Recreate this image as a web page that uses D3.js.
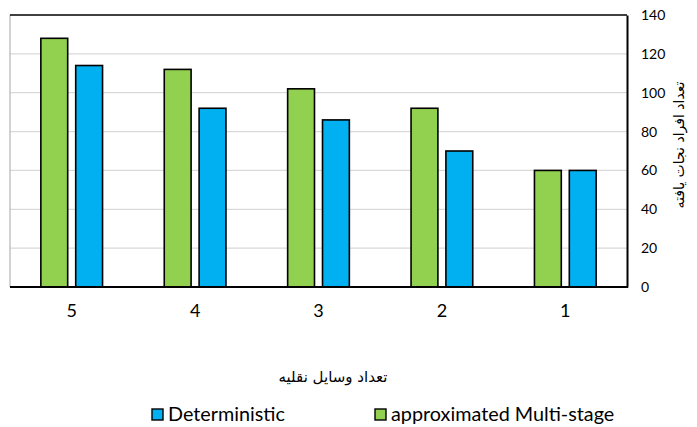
<!DOCTYPE html>
<html>
<head>
<meta charset="utf-8">
<script src="https://cdn.jsdelivr.net/npm/d3@7"></script>
<style>
  html, body { margin: 0; padding: 0; background: #fff; }
  svg { display: block; }
</style>
</head>
<body>
<svg id="chart" width="697" height="427"></svg>
<script>
// Number of vehicles (categories, shown left to right)
const categories = ["5", "4", "3", "2", "1"];
// Number of people rescued per model
const multiStage = [128, 112, 102, 92, 60];
const deterministic = [114, 92, 86, 70, 60];
const seriesNames = ["approximated Multi-stage", "Deterministic"];
const seriesColors = ["#92D050", "#00B0F0"];
const yTicks = [0, 20, 40, 60, 80, 100, 120, 140];

const xTitle = "تعداد وسایل نقلیه";
const yTitle = "تعداد افراد نجات یافته";

const svg = d3.select("#chart");
const plotLeft = 10, plotRight = 627, plotTop = 15, plotBottom = 287;

const x = d3.scaleBand().domain(categories).range([plotLeft, plotRight])
  .paddingInner(0.5).paddingOuter(0.25);
const xInner = d3.scaleBand().domain(seriesNames).range([0, x.bandwidth()])
  .paddingInner(0.23).paddingOuter(0);
const y = d3.scaleLinear().domain([0, 140]).range([plotBottom, plotTop]);

// gridlines
svg.append("g").selectAll("line").data(yTicks.filter(d => d > 0 && d < 140)).join("line")
  .attr("x1", plotLeft).attr("x2", plotRight)
  .attr("y1", d => y(d)).attr("y2", d => y(d))
  .attr("stroke", "#d9d9d9").attr("stroke-width", 1.3);

// left frame edge
svg.append("line").attr("x1", plotLeft).attr("x2", plotLeft).attr("y1", plotTop).attr("y2", plotBottom)
  .attr("stroke", "#a6a6a6").attr("stroke-width", 1);

// bars
const rows = categories.map((c, i) => ({ c, vals: [multiStage[i], deterministic[i]] }));
const groups = svg.append("g").selectAll("g").data(rows).join("g")
  .attr("transform", d => `translate(${x(d.c)},0)`);
groups.selectAll("rect").data(d => d.vals.map((v, j) => ({ v, j }))).join("rect")
  .attr("x", d => xInner(seriesNames[d.j]))
  .attr("width", xInner.bandwidth())
  .attr("y", d => y(d.v))
  .attr("height", d => y(0) - y(d.v))
  .attr("fill", d => seriesColors[d.j])
  .attr("stroke", "#000").attr("stroke-width", 1.6);

// top frame, right axis and baseline
svg.append("line").attr("x1", plotLeft).attr("x2", plotRight).attr("y1", plotTop).attr("y2", plotTop)
  .attr("stroke", "#000").attr("stroke-width", 1.6);
svg.append("line").attr("x1", plotLeft).attr("x2", plotRight + 1).attr("y1", plotBottom).attr("y2", plotBottom)
  .attr("stroke", "#000").attr("stroke-width", 2);

const yAxis = svg.append("g").attr("transform", `translate(${plotRight},0)`)
  .call(d3.axisRight(y).tickValues(yTicks).tickSize(0).tickPadding(14));
yAxis.select(".domain").attr("stroke", "#000").attr("stroke-width", 2);
yAxis.selectAll("text").attr("font-family", "Lato, 'Open Sans', sans-serif")
  .attr("font-size", 14).attr("fill", "#000");

const xAxis = svg.append("g").attr("transform", `translate(0,${plotBottom})`)
  .call(d3.axisBottom(x).tickSize(0).tickPadding(17));
xAxis.select(".domain").remove();
xAxis.selectAll("text").attr("font-family", "Lato, 'Open Sans', sans-serif")
  .attr("font-size", 18).attr("fill", "#000");

// axis titles
svg.append("text").attr("x", 333).attr("y", 382).attr("text-anchor", "middle")
  .attr("font-family", "'DejaVu Sans', sans-serif").attr("font-size", 15)
  .attr("direction", "rtl").text(xTitle);
svg.append("text").attr("transform", "translate(684,145) rotate(-90)")
  .attr("text-anchor", "middle")
  .attr("font-family", "'DejaVu Sans', sans-serif").attr("font-size", 14)
  .attr("direction", "rtl").text(yTitle);

// legend
const legendItems = [
  { name: "Deterministic", color: seriesColors[1], x: 152 },
  { name: "approximated Multi-stage", color: seriesColors[0], x: 375 }
];
const lg = svg.append("g").selectAll("g").data(legendItems).join("g")
  .attr("transform", d => `translate(${d.x},409)`);
lg.append("rect").attr("width", 11).attr("height", 11)
  .attr("fill", d => d.color).attr("stroke", "#000").attr("stroke-width", 1.4);
lg.append("text").attr("x", 16).attr("y", 11.5)
  .attr("font-family", "Lato, 'Open Sans', sans-serif").attr("font-size", 19.8)
  .text(d => d.name);
</script>
</body>
</html>
